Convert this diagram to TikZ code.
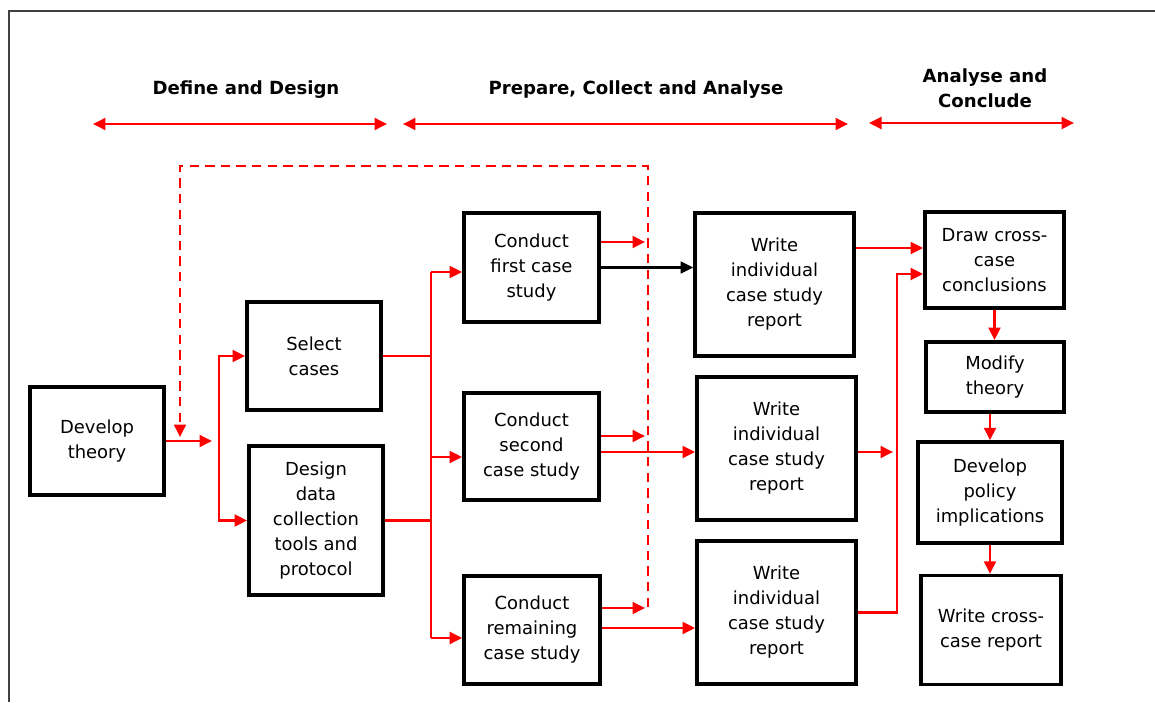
\documentclass[tikz,border=0pt]{standalone}
\usepackage{fontspec}
\setmainfont{DejaVu Sans}
\usetikzlibrary{arrows.meta}

\begin{document}
\begin{tikzpicture}[x=0.0225cm, y=-0.0225cm,
    box/.style={draw, line width=2.3pt, align=center, inner sep=2pt, font=\fontsize{11.5}{16}\selectfont},
    head/.style={align=center, font=\bfseries\fontsize{11.6}{16}\selectfont},
    redline/.style={red, line width=1.8pt},
    redarrow/.style={redline, -{Triangle[length=8pt,width=7.5pt]}},
    blackarrow/.style={black, line width=1.5pt, -{Triangle[length=8pt,width=7.5pt]}},
    phase/.style={redline, {Triangle[length=8pt,width=7.5pt]}-{Triangle[length=8pt,width=7.5pt]}},
    feedback/.style={redarrow, dash pattern=on 6pt off 4pt}]
    \useasboundingbox (0,0) rectangle (1155,702);
    \draw[black!75, line width=1pt] (9,702) -- (9,11) -- (1155,11);

    % phases
    \node[head] (hDefine) at (246,90) {Define and Design};
    \node[head] (hPrepare) at (636,90) {Prepare, Collect and Analyse};
    \node[head] (hConclude) at (985,88) {Analyse and\\Conclude};
    \coordinate (pA1) at (93,124);  \coordinate (pA2) at (387,124);
    \coordinate (pB1) at (403,124); \coordinate (pB2) at (848,124);
    \coordinate (pC1) at (869,123); \coordinate (pC2) at (1074,123);
    \draw[phase] (pA1) -- (pA2);
    \draw[phase] (pB1) -- (pB2);
    \draw[phase] (pC1) -- (pC2);

    % boxes
    \node[box, minimum width=3.02cm, minimum height=2.43cm] (dev) at (97,441) {Develop\\theory};
    \node[box, minimum width=3.02cm, minimum height=2.43cm] (sel) at (314,356) {Select\\cases};
    \node[box, minimum width=3.02cm, minimum height=3.35cm] (des) at (316,520.5) {Design\\data\\collection\\tools and\\protocol};
    \node[box, minimum width=3.04cm, minimum height=2.45cm] (c1) at (531.5,267.5) {Conduct\\first case\\study};
    \node[box, minimum width=3.04cm, minimum height=2.41cm] (c2) at (531.5,446.5) {Conduct\\second\\case study};
    \node[box, minimum width=3.06cm, minimum height=2.43cm] (c3) at (532,630) {Conduct\\remaining\\case study};
    \node[box, minimum width=3.58cm, minimum height=3.22cm] (w1) at (774.5,284.5) {Write\\individual\\case study\\report};
    \node[box, minimum width=3.58cm, minimum height=3.22cm] (w2) at (776.5,448.5) {Write\\individual\\case study\\report};
    \node[box, minimum width=3.58cm, minimum height=3.22cm] (w3) at (776.5,612.5) {Write\\individual\\case study\\report};
    \node[box, minimum width=3.13cm, minimum height=2.16cm] (draw) at (994.5,260) {Draw cross-\\case\\conclusions};
    \node[box, minimum width=3.11cm, minimum height=1.58cm] (mod) at (995,377) {Modify\\theory};
    \node[box, minimum width=3.24cm, minimum height=2.27cm] (pol) at (990,492.5) {Develop\\policy\\implications};
    \node[box, minimum width=3.15cm, minimum height=2.45cm] (rep) at (991,630) {Write cross-\\case report};

    % define and design
    \coordinate (devtip) at (212,441);
    \coordinate (splitA) at (219,441);
    \draw[redarrow] (dev.east) -- (devtip);
    \draw[redarrow] (splitA) |- (sel.west);
    \draw[redarrow] (splitA) |- (des.west);

    % feedback loop
    \coordinate (fb) at (648,607);
    \coordinate (fbcorner) at (180,166);
    \coordinate (fbend) at (180,437);
    \draw[feedback] (fb) |- (fbcorner) -- (fbend);

    % to the case studies
    \coordinate (busTop) at (431,272);
    \coordinate (busMid) at (431,457);
    \coordinate (busBot) at (431,638);
    \draw[redline] (busTop) -- (busBot);
    \draw[redline] (sel.east) -- (sel.east -| busTop);
    \draw[redline] (des.east) -- (des.east -| busTop);
    \draw[redarrow] (busTop) -- (busTop -| c1.west);
    \draw[redarrow] (busMid) -- (busMid -| c2.west);
    \draw[redarrow] (busBot) -- (busBot -| c3.west);

    % case studies to reports
    \coordinate (s1) at (645,242);
    \coordinate (s2) at (645,436);
    \coordinate (s3) at (645,608);
    \coordinate (l2) at (600,452);
    \coordinate (l3) at (600,628);
    \draw[redarrow] (s1 -| c1.east) -- (s1);
    \draw[blackarrow] (c1.east) -- (c1.east -| w1.west);
    \draw[redarrow] (s2 -| c2.east) -- (s2);
    \draw[redarrow] (l2 -| c2.east) -- (l2 -| w2.west);
    \draw[redarrow] (s3 -| c3.east) -- (s3);
    \draw[redarrow] (l3 -| c3.east) -- (l3 -| w3.west);

    % reports to conclusions
    \coordinate (in1) at (900,248);
    \coordinate (t2) at (893,452);
    \coordinate (bus3) at (897,274);
    \draw[redarrow] (w1.east |- in1) -- (draw.west |- in1);
    \draw[redarrow] (w2.east |- t2) -- (t2);
    \draw[redarrow] (w3.east) -| (bus3) -- (bus3 -| draw.west);
    \draw[redarrow] (draw.south) -- (draw.south |- mod.north);
    \draw[redarrow] (mod.south -| pol.north) -- (pol.north);
    \draw[redarrow] (pol.south) -- (pol.south |- rep.north);
\end{tikzpicture}
\end{document}
